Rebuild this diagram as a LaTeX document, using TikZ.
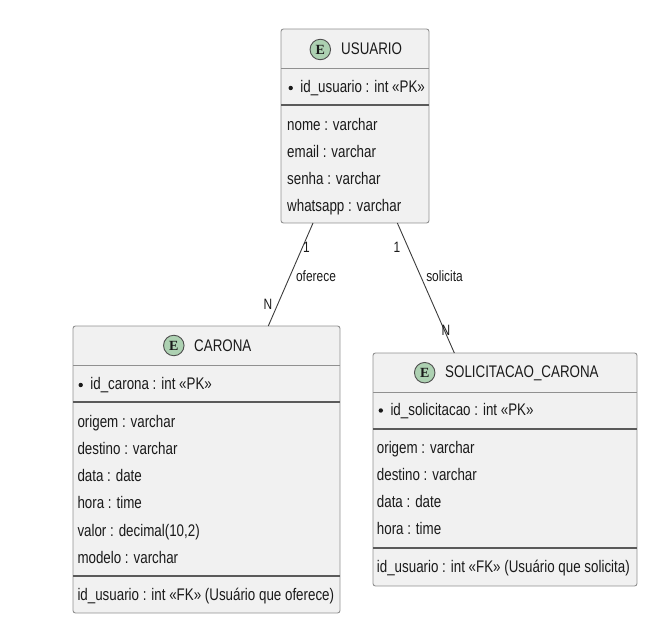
\documentclass[tikz,border=0pt]{standalone}
\usepackage{fontspec}
\setmainfont{Liberation Sans}[FakeStretch=0.795]
\newfontfamily\eserif{Liberation Serif}
\definecolor{boxfill}{HTML}{F1F1F1}
\definecolor{boxline}{HTML}{909090}
\definecolor{sepdark}{HTML}{5A5A5A}
\definecolor{efill}{HTML}{ADD1B2}
\definecolor{eline}{HTML}{4E4E4E}
\definecolor{conn}{HTML}{3C3C3C}
\definecolor{txt}{HTML}{1A1A1A}
\tikzset{
  entbox/.style={draw=boxline, fill=boxfill, line width=0.9pt, rounded corners=2.5pt, inner sep=0pt, outer sep=0pt},
  hsep/.style={draw=boxline, line width=0.9pt},
  dsep/.style={draw=sepdark, line width=1.4pt},
  ecirc/.style={circle, draw=eline, fill=efill, line width=0.9pt, minimum size=20.5pt, inner sep=0pt, font=\eserif\bfseries\fontsize{14}{14}\selectfont, text=txt},
  attr/.style={anchor=base west, inner sep=0pt, text=txt, font=\fontsize{16.8}{19}\selectfont},
  title/.style={anchor=base west, inner sep=0pt, text=txt, font=\fontsize{16.8}{19}\selectfont},
  pkdot/.style={circle, fill=txt, inner sep=0pt, minimum size=4.4pt},
  lbl/.style={inner sep=0pt, text=txt, font=\fontsize{15}{17}\selectfont},
  rel/.style={draw=conn, line width=0.9pt}
}
\begin{document}
\begin{tikzpicture}[x=1pt,y=-1pt]
\useasboundingbox (0,0) rectangle (669,628);
% ---------- USUARIO ----------
\node[entbox, minimum width=148pt, minimum height=194pt] (usuario) at (355,126) {};
\draw[hsep] (281,68) -- (429,68);
\draw[dsep] (281,105) -- (429,105);
\node[ecirc] (eu) at (320.3,49.5) {E};
\node[title] (tu) at (341,55) {USUARIO};
\node[pkdot] (du) at (290.7,88) {};
\node[attr] (u0) at (300.2,93) {id\_usuario : int «PK»};
\node[attr] (u1) at (287,130.5) {nome : varchar};
\node[attr] (u2) at (287,157.5) {email : varchar};
\node[attr] (u3) at (287,184.5) {senha : varchar};
\node[attr] (u4) at (287,211.5) {whatsapp : varchar};
% ---------- CARONA ----------
\node[entbox, minimum width=267pt, minimum height=287pt] (carona) at (206.5,469.5) {};
\draw[hsep] (73,365) -- (340,365);
\draw[dsep] (73,402) -- (340,402);
\draw[dsep] (73,576) -- (340,576);
\node[ecirc] (ec) at (173.8,345.5) {E};
\node[title] (tc) at (194,351.5) {CARONA};
\node[pkdot] (dc) at (80.7,385) {};
\node[attr] (c0) at (90.2,389.8) {id\_carona : int «PK»};
\node[attr] (c1) at (77.3,427) {origem : varchar};
\node[attr] (c2) at (77.3,454.3) {destino : varchar};
\node[attr] (c3) at (77.3,481.6) {data : date};
\node[attr] (c4) at (77.3,508.9) {hora : time};
\node[attr] (c5) at (77.3,536.2) {valor : decimal(10,2)};
\node[attr] (c6) at (77.3,563.5) {modelo : varchar};
\node[attr] (c7) at (77.3,600) {id\_usuario : int «FK» (Usuário que oferece)};
% ---------- SOLICITACAO_CARONA ----------
\node[entbox, minimum width=264pt, minimum height=233pt] (solic) at (505,469.5) {};
\draw[hsep] (373,392) -- (637,392);
\draw[dsep] (373,429) -- (637,429);
\draw[dsep] (373,548) -- (637,548);
\node[ecirc] (es) at (424.7,372.7) {E};
\node[title] (ts) at (445,377.8) {SOLICITACAO\_CARONA};
\node[pkdot] (ds) at (380.8,410.5) {};
\node[attr] (s0) at (390.3,415.3) {id\_solicitacao : int «PK»};
\node[attr] (s1) at (376.7,453) {origem : varchar};
\node[attr] (s2) at (376.7,480.3) {destino : varchar};
\node[attr] (s3) at (376.7,507.6) {data : date};
\node[attr] (s4) at (376.7,534.9) {hora : time};
\node[attr] (s5) at (376.7,572.5) {id\_usuario : int «FK» (Usuário que solicita)};
% ---------- relations ----------
\draw[rel] (usuario) -- (carona);
\draw[rel] (usuario) -- (solic);
\node[lbl] (o1) at (306.5,247) {1};
\node[lbl] (on) at (268,304) {N};
\node[lbl] (ol) at (316,276) {oferece};
\node[lbl] (s1l) at (397,247) {1};
\node[lbl] (sn) at (446,330) {N};
\node[lbl] (sl) at (444.5,276) {solicita};
\end{tikzpicture}
\end{document}
